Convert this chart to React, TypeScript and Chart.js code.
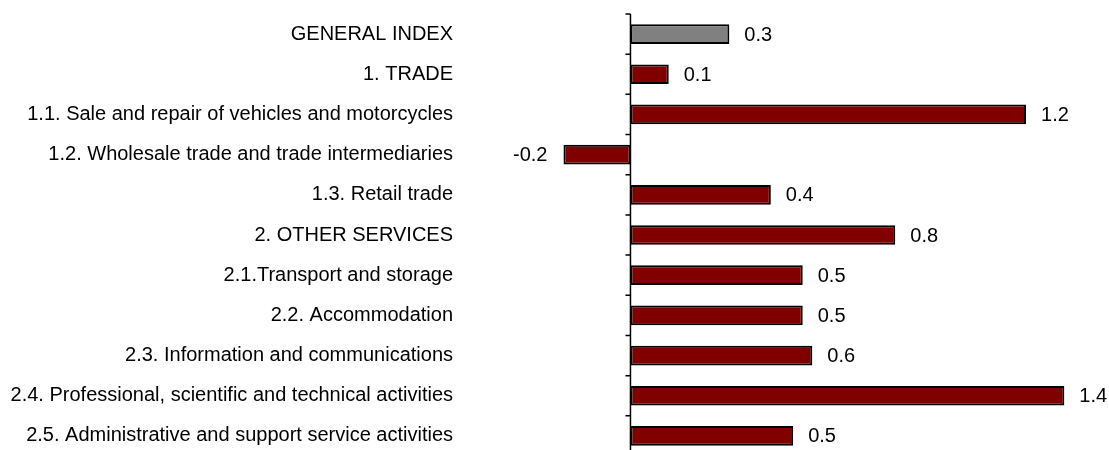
import React, { useEffect, useRef } from "react";
import { Chart, registerables } from "chart.js";

Chart.register(...registerables);

const categories = [
  "GENERAL INDEX",
  "1. TRADE",
  "1.1. Sale and repair of vehicles and motorcycles",
  "1.2. Wholesale trade and trade intermediaries",
  "1.3. Retail trade",
  "2. OTHER SERVICES",
  "2.1.Transport and storage",
  "2.2. Accommodation",
  "2.3. Information and communications",
  "2.4. Professional, scientific and technical activities",
  "2.5. Administrative and support service activities",
];

const values = [0.31, 0.12, 1.24, -0.21, 0.44, 0.83, 0.54, 0.54, 0.57, 1.36, 0.51];

const FONT = '"Liberation Sans", Arial, sans-serif';

const zeroAxisPlugin = {
  id: "zeroAxisAndLabels",
  afterDatasetsDraw(chart: any) {
    const { ctx, chartArea, scales } = chart;
    const x0 = scales.x.getPixelForValue(0);
    ctx.save();
    ctx.strokeStyle = "#000";
    ctx.lineWidth = 1.5;
    ctx.beginPath();
    ctx.moveTo(x0, chartArea.top);
    ctx.lineTo(x0, chartArea.bottom);
    const n = categories.length;
    const step = (chartArea.bottom - chartArea.top) / n;
    for (let i = 0; i <= n; i++) {
      const y = chartArea.top + i * step;
      ctx.moveTo(x0 - 5, y);
      ctx.lineTo(x0, y);
    }
    ctx.stroke();

    ctx.font = `20px ${FONT}`;
    ctx.fillStyle = "#000";
    ctx.textBaseline = "middle";
    const meta = chart.getDatasetMeta(0);
    meta.data.forEach((el: any, i: number) => {
      const v = values[i];
      const text = v.toFixed(1);
      if (v >= 0) {
        ctx.textAlign = "left";
        ctx.fillText(text, el.x + 15, el.y + 1);
      } else {
        ctx.textAlign = "right";
        ctx.fillText(text, el.x - 16, el.y + 1);
      }
    });
    ctx.restore();
  },
};

export default function App() {
  const ref = useRef<HTMLCanvasElement | null>(null);

  useEffect(() => {
    document.body.style.margin = "0";
    document.documentElement.style.overflow = "hidden";
    const canvas = ref.current;
    if (!canvas) return;
    const chart = new Chart(canvas, {
      type: "bar",
      data: {
        labels: categories,
        datasets: [
          {
            data: values,
            backgroundColor: (c: any) => (c.dataIndex === 0 ? "#808080" : "#800000"),
            borderColor: "#000",
            borderWidth: 2,
            borderSkipped: false,
            barPercentage: 0.49,
            categoryPercentage: 1,
          },
        ],
      },
      options: {
        indexAxis: "y",
        animation: false,
        responsive: false,
        layout: { padding: { top: 12, bottom: 2, left: 0, right: 0 } },
        plugins: {
          legend: { display: false },
          tooltip: { enabled: false },
          title: { display: false },
        },
        scales: {
          x: {
            type: "linear",
            min: -0.55,
            max: 1.5,
            display: false,
            grid: { display: false },
          },
          y: {
            type: "category",
            afterFit: (s: any) => {
              s.width = 455;
            },
            grid: { display: false, drawTicks: false },
            border: { display: false },
            ticks: {
              padding: 2,
              color: "#000",
              font: { family: FONT, size: 20 },
              autoSkip: false,
            },
          },
        },
      },
      plugins: [zeroAxisPlugin],
    });
    return () => chart.destroy();
  }, []);

  return (
    <div style={{ width: 1109, height: 450, overflow: "hidden" }}>
      <canvas ref={ref} width={1109} height={470} style={{ display: "block" }} />
    </div>
  );
}
